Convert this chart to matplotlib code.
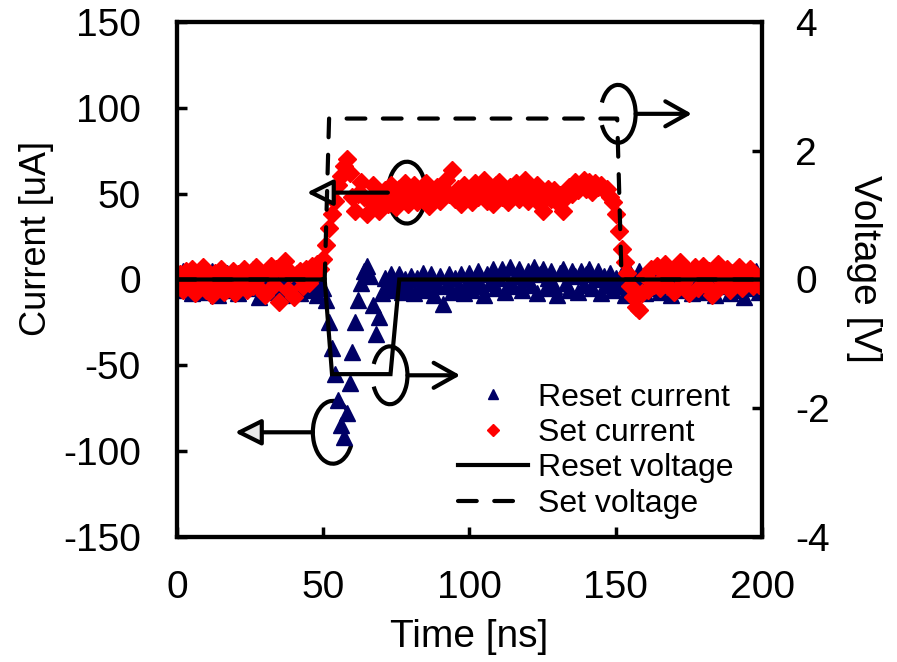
import matplotlib
matplotlib.use('Agg')
import matplotlib.pyplot as plt
import numpy as np
from matplotlib.patches import Arc

plt.rcParams['font.family'] = ['Liberation Sans', 'DejaVu Sans']
plt.rcParams['axes.unicode_minus'] = False

# time axis [ns], 1 ns step
time_ns = np.arange(0, 201)

# reset current [uA]
reset_current = [
    3, -4, 5, -6, 2, -8, 4, -2, -5, 3,
    -7, 1, 5, -3, -9, 2, -4, 4, -6, 0,
    3, -8, -2, 5, -5, 1, 6, -4, -10, 2,
    -3, 4, -7, 0, -5, 3, -9, -2, 4, -6,
    1, -4, -8, 2, -3, 3, -6, -1, -9, -3,
    -5, -12, -25, -40, -55, -70, -85, -92, -78, -60,
    -42, -25, -12, -2, 5, 8, 2, -15, -32, -22,
    -8, 1, -4, 3, -6, -2, 3, -7, 0, -5,
    2, -8, 1, -4, 4, -6, -1, 3, -9, -3,
    2, -14, -4, 3, -7, 1, -5, 3, -8, -2,
    4, -6, 0, 5, -4, -9, 3, -2, 6, -5,
    1, 6, -7, -3, 7, -4, 2, 6, -6, 0,
    5, -3, 7, -8, 3, 6, -5, 1, 5, -4,
    -9, 4, 6, -2, -6, 5, 2, -7, 5, -3,
    3, 6, -5, 0, 5, -8, 2, -3, 4, -6,
    1, -4, 3, -9, -2, 4, -6, 0, 5, -3,
    -8, 4, -5, 1, 5, -7, -2, 4, -4, -9,
    3, -3, 5, -6, 0, 4, -8, -2, 6, -5,
    2, -7, 4, -3, -9, 1, 5, -4, 2, -8,
    4, -2, -6, 4, -10, 0, 3, -5, 5, -7,
    -4]

# set current [uA]
set_current = [
    -5, 3, -6, 5, -3, 6, -8, 2, -4, 7,
    -6, 1, -9, 4, -3, 6, -7, 2, -5, 5,
    -8, 3, -2, 6, -6, 2, -4, 7, -5, 3,
    -9, 4, 8, -3, 6, -13, 5, 11, -6, 4,
    -10, 3, 5, -4, 6, -2, 8, 2, 9, 6,
    12, 20, 30, 38, 46, 55, 60, 66, 70, 62,
    48, 40, 50, 57, 48, 38, 46, 55, 48, 40,
    47, 52, 44, 55, 48, 42, 53, 47, 56, 44,
    50, 55, 45, 52, 47, 56, 43, 51, 48, 54,
    46, 52, 58, 50, 64, 47, 53, 44, 55, 49,
    51, 45, 56, 48, 53, 58, 46, 50, 44, 55,
    57, 48, 52, 45, 54, 49, 56, 47, 51, 58,
    46, 52, 48, 55, 44, 40, 50, 53, 47, 52,
    45, 49, 40, 48, 54, 50, 57, 52, 55, 58,
    53, 57, 51, 56, 54, 55, 52, 53, 48, 45,
    38, 28, 18, 10, 4, -4, -10, -16, -18, -8,
    2, -6, 6, -3, 8, -5, 1, 9, -4, 5,
    -7, 3, 10, -2, 6, -8, 4, 7, -5, 2,
    8, -3, 5, -9, 3, 9, -4, 1, 6, -6,
    4, -2, 7, -5, 3, -1, 6, -4, 2, -3,
    0]

# voltage pulses [V]: corner points
reset_v_t = [0, 50.5, 53, 73, 76, 200]
reset_v = [0, 0, -1.47, -1.47, 0, 0]
set_v_t = [0, 50.5, 52, 150.5, 152, 200]
set_v = [0, 0, 2.5, 2.5, 0, 0]

navy = '#000066'


def bracket(ax, cx, cy, w, h, side, x_end):
    # ellipse bracket plus arrow pointing to the owning axis
    if side == 'left':
        arc = Arc((cx, cy), w, h, theta1=50, theta2=310, lw=3, color='black')
        x0 = cx - w / 2
        props = dict(arrowstyle='-|>,head_length=0.8,head_width=0.4',
                     lw=3, ec='black', fc='#e8e8e8')
    else:
        arc = Arc((cx, cy), w, h, theta1=-130, theta2=130, lw=3, color='black')
        x0 = cx + w / 2
        props = dict(arrowstyle='->,head_length=0.8,head_width=0.45',
                     lw=3, color='black')
    ax.add_patch(arc)
    props.update(shrinkA=0, shrinkB=0, mutation_scale=20)
    ax.annotate('', xy=(x_end, cy), xytext=(x0, cy), arrowprops=props)


def main():
    fig = plt.figure(figsize=(8.97, 6.62), dpi=100)
    ax = fig.add_axes([0.1973, 0.1888, 0.6522, 0.7780])
    ax2 = ax.twinx()

    h1, = ax.plot(time_ns, reset_current, linestyle='none', marker='^',
                  markersize=11, color=navy, label='Reset current')
    h2, = ax.plot(time_ns, set_current, linestyle='none', marker='D',
                  markersize=9.5, color='red', label='Set current')

    h3, = ax2.plot(reset_v_t, reset_v, color='black', lw=3,
                   solid_joinstyle='miter', label='Reset voltage')
    h4, = ax2.plot(set_v_t, set_v, color='black', lw=3,
                   linestyle=(0, (4.5, 4.2)), dash_capstyle='round',
                   label='Set voltage')

    ax.set_xlim(0, 200)
    ax.set_ylim(-150, 150)
    ax2.set_ylim(-4, 4)
    ax.set_xticks([0, 50, 100, 150, 200])
    ax.set_yticks([-150, -100, -50, 0, 50, 100, 150])
    ax2.set_yticks([-4, -2, 0, 2, 4])

    for a in (ax, ax2):
        for s in a.spines.values():
            s.set_linewidth(3)

    ax.tick_params(axis='y', direction='in', length=7, width=2.5,
                   labelsize=28, pad=26)
    ax.tick_params(axis='x', direction='in', length=7, width=2.5,
                   labelsize=28, pad=24)
    ax2.tick_params(axis='y', direction='in', length=7, width=2.5,
                    labelsize=28, pad=24)

    ax.set_xlabel('Time [ns]', fontsize=28)
    ax.set_ylabel('Current [uA]', fontsize=26)
    ax2.set_ylabel('Voltage [V]', fontsize=28, rotation=270)
    ax.xaxis.set_label_coords(0.5, -0.16)
    ax.yaxis.set_label_coords(-0.21, 0.58)
    ax2.yaxis.set_label_coords(1.205, 0.52)

    # annotations: ellipse brackets with arrows to the axis of each curve
    bracket(ax, 78.6, 50.6, 13, 36, 'left', 44.4)
    bracket(ax, 53.3, -89, 13.7, 36.6, 'left', 19.8)
    bracket(ax, 150.8, 96.5, 12, 33.7, 'right', 176)
    bracket(ax, 72.8, -55.8, 12, 33.7, 'right', 96.8)

    ax2.legend([h1, h2, h3, h4],
               ['Reset current', 'Set current', 'Reset voltage', 'Set voltage'],
               loc='upper left', bbox_to_anchor=(0.48, 0.30), frameon=False,
               fontsize=23, handlelength=2.2, handletextpad=0.3,
               labelspacing=0.17, borderpad=0, borderaxespad=0,
               markerscale=0.65)

    fig.savefig('out.png', dpi=100)


if __name__ == '__main__':
    main()
